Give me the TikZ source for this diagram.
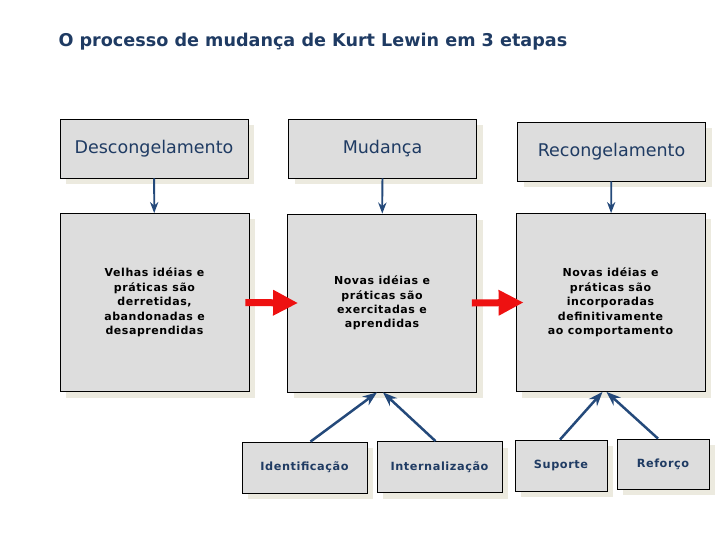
\documentclass[tikz,border=0pt]{standalone}
\usepackage{fontspec}
\setmainfont{DejaVu Sans}
\newfontfamily\espacada[LetterSpace=5]{DejaVu Sans}
\usepackage{tikz}
\usetikzlibrary{arrows.meta, shadows}
\definecolor{azulescuro}{HTML}{1F3B63}
\definecolor{cinzacaixa}{HTML}{DDDDDD}
\definecolor{sombra}{HTML}{ECEADF}
\definecolor{azulseta}{HTML}{24497A}
\definecolor{vermelho}{HTML}{EE1111}

\begin{document}
\begin{tikzpicture}[x=1pt, y=-1pt, >=Stealth,
		caixa/.style={draw=black, line width=0.8pt, fill=cinzacaixa, inner sep=0pt,
			drop shadow={shadow xshift=6pt, shadow yshift=-6pt, fill=sombra, opacity=1}},
		etapa/.style={caixa, minimum width=188pt, minimum height=59pt,
			text=azulescuro, font=\fontsize{17.5}{20}\selectfont},
		ideia/.style={caixa, minimum width=189pt, minimum height=178pt, align=center,
			font=\espacada\bfseries\fontsize{11}{14.4}\selectfont},
		fator/.style={caixa, minimum height=51pt, text=azulescuro,
			font=\espacada\bfseries\fontsize{11.3}{13}\selectfont},
		setaazul/.style={->, draw=azulseta, line width=1.8pt},
		setavermelha/.style={draw=vermelho, line width=7pt, -{Triangle[length=25pt, width=24pt]}}]
	\useasboundingbox (0,0) rectangle (720,540);
	
	\node[anchor=west, text=azulescuro, font=\bfseries\fontsize{17.6}{20}\selectfont] (titulo) at (55,42) {O processo de mudança de Kurt Lewin em 3 etapas};
	
	% etapas
	\node[etapa] (desc) at (154,148.5) {Descongelamento};
	\node[etapa] (mud) at (382.5,148.5) {Mudança};
	\node[etapa] (recong) at (611.5,151.5) {Recongelamento};
	
	\node[ideia] (velhas) at (154.5,302.5) {Velhas idéias e\\práticas são\\derretidas,\\abandonadas e\\desaprendidas};
	\node[ideia] (novas) at (382,303) {Novas idéias e\\práticas são\\exercitadas e\\aprendidas};
	\node[ideia] (incorp) at (610.5,302.5) {Novas idéias e\\práticas são\\incorporadas\\definitivamente\\ao comportamento};
	
	% fatores
	\node[fator, minimum width=125pt] (ident) at (304.5,467.5) {Identificação};
	\node[fator, minimum width=125pt] (intern) at (439.5,467) {Internalização};
	\node[fator, minimum width=92pt] (suporte) at (561,465.5) {Suporte};
	\node[fator, minimum width=92pt, minimum height=50pt] (reforco) at (663,464) {Reforço};
	
	\draw[setaazul] (desc) -- (velhas);
	\draw[setaazul] (mud) -- (novas);
	\draw[setaazul] (recong) -- (incorp);
	
	\draw[setavermelha] ([xshift=-4pt]velhas.east) -- ([xshift=11pt]novas.west);
	\draw[setavermelha] ([xshift=-5pt]novas.east) -- ([xshift=8pt]incorp.west);
	
	\draw[setaazul, line width=2.5pt] ([xshift=6pt]ident.north) -- ([xshift=-5pt]novas.south);
	\draw[setaazul, line width=2.5pt] ([xshift=-4pt]intern.north) -- ([xshift=1pt]novas.south);
	\draw[setaazul, line width=2.5pt] ([xshift=-1pt]suporte.north) -- ([xshift=-8pt]incorp.south);
	\draw[setaazul, line width=2.5pt] ([xshift=-5pt]reforco.north) -- ([xshift=-4pt]incorp.south);
\end{tikzpicture}
\end{document}
